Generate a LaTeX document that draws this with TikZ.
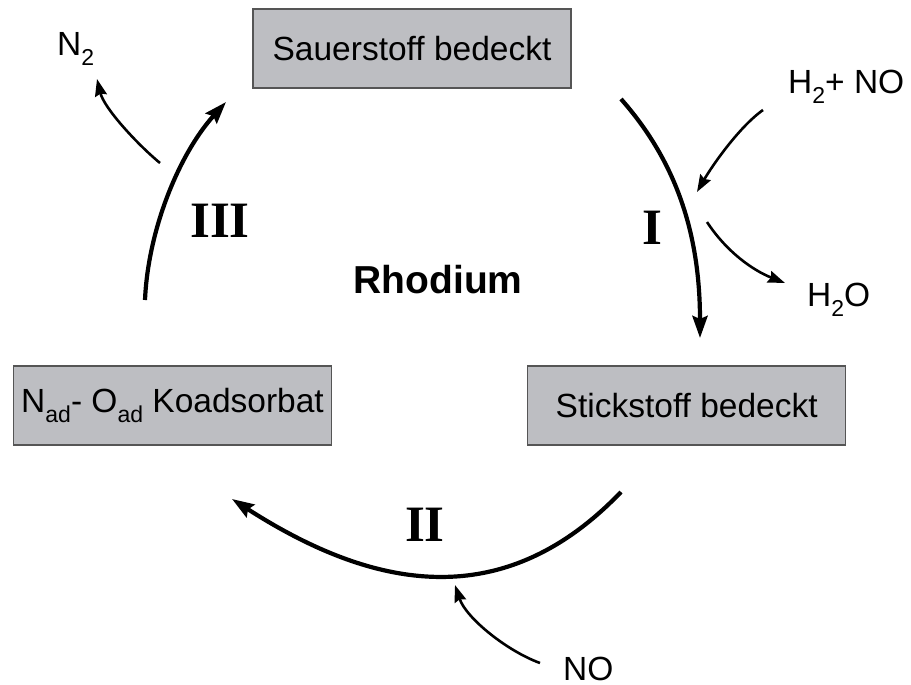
\documentclass[tikz,border=0pt]{standalone}
\usepackage{fontspec}
\setmainfont{Liberation Sans}
\newfontfamily\romfont{Liberation Serif}
\usepackage{tikz}
\usetikzlibrary{arrows.meta,positioning}
\definecolor{boxgray}{RGB}{189,190,194}
\definecolor{boxline}{RGB}{85,85,85}
\newcommand{\lowidx}[1]{\raisebox{-10pt}{\fontsize{23}{23}\selectfont #1}}

\begin{document}
\begin{tikzpicture}[x=1pt,y=-1pt,
        bx/.style={draw=boxline,fill=boxgray,line width=1.2pt,
                   minimum width=318pt,minimum height=79pt,inner sep=0pt,
                   font=\fontsize{33.5}{40}\selectfont},
        tx/.style={inner sep=0pt,anchor=base west,
                   font=\fontsize{33.5}{40}\selectfont},
        rn/.style={inner sep=0pt,anchor=base,
                   font=\romfont\bfseries\fontsize{51}{60}\selectfont},
        a/.style={-{Stealth[length=22pt,width=15pt,inset=3pt]},line width=4.2pt},
        sa/.style={-{Stealth[length=17pt,width=12pt,inset=2pt]},line width=2.6pt}
      ]
        \useasboundingbox (0,0) rectangle (911,685);

        \node[bx] (sauer) at (412,48.5) {Sauerstoff bedeckt};
        \node[bx] (koad) at (172.5,405.5) {N\lowidx{ad}- O\lowidx{ad} Koadsorbat};
        \node[bx, right=195pt of koad] (stick) {Stickstoff bedeckt};
        \node[inner sep=0pt,anchor=base,font=\bfseries\fontsize{39}{44}\selectfont]
          (rh) at (438,293) {Rhodium};

        \node[rn] (r1) at (652,244) {I};
        \node[rn] (r2) at (425,541) {II};
        \node[rn] (r3) at (220,237) {III};

        \node[tx] (n2) at (57,56) {N\lowidx{2}};
        \node[tx] (h2no) at (788,93) {H\lowidx{2}+ NO};
        \node[tx] (h2o) at (807,306) {H\lowidx{2}O};
        \node[tx] (no) at (563,680) {NO};

        % ends of the arrows
        \coordinate (i0) at (621,99);    \coordinate (i1) at (700,338);
        \coordinate (ii0) at (621,492);  \coordinate (ii1) at (232,499);
        \coordinate (iii0) at (145,300); \coordinate (iii1) at (226,102);
        \coordinate (in0) at (763,110);  \coordinate (in1) at (697,192);
        \coordinate (out0) at (707,222); \coordinate (out1) at (785,283);
        \coordinate (no0) at (540,663);  \coordinate (no1) at (455,585);
        \coordinate (n20) at (160,163);  \coordinate (n21) at (97,79);

        \draw[a] (i0) .. controls (674,159) and (700,230) .. (i1);
        \draw[a] (ii0) .. controls (504,614) and (375,591) .. (ii1);
        \draw[a] (iii0) .. controls (148,230) and (179,154) .. (iii1);
        \draw[sa] (in0) .. controls (739,127) and (712,166) .. (in1);
        \draw[sa] (out0) .. controls (726,251) and (752,270) .. (out1);
        \draw[sa] (no0) .. controls (507,651) and (466,618) .. (no1);
        \draw[sa] (n20) .. controls (137,144) and (104,108) .. (n21);
      \end{tikzpicture}
\end{document}
